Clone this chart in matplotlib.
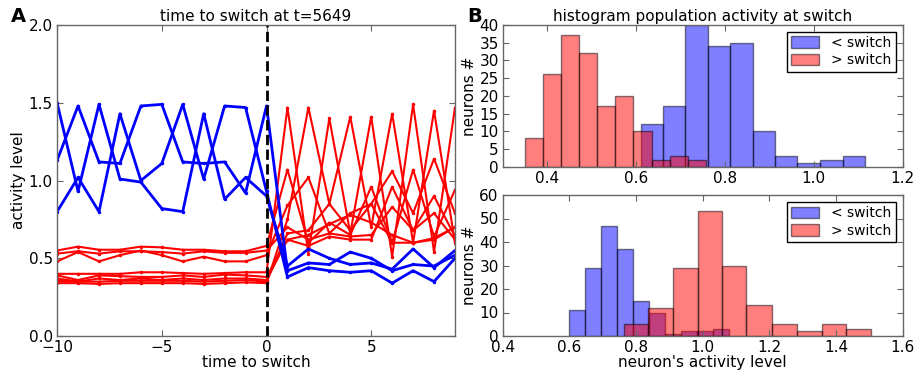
import numpy as np
import matplotlib
matplotlib.use("Agg")
import matplotlib.pyplot as plt

# ---- panel A: activity traces around the switch ----
t = np.arange(-10, 10)

blue_traces = [
    [1.50, 0.93, 1.49, 1.01, 0.99, 0.82, 0.80, 1.43, 0.88, 1.02, 0.90,
     0.45, 0.56, 0.50, 0.46, 0.47, 0.43, 0.56, 0.44, 0.55],
    [1.13, 1.48, 1.12, 1.11, 1.48, 1.49, 1.12, 1.11, 1.12, 0.92, 1.48,
     0.42, 0.47, 0.46, 0.54, 0.50, 0.42, 0.46, 0.45, 0.52],
    [0.80, 1.02, 0.80, 1.43, 1.00, 1.11, 1.49, 1.01, 1.48, 1.47, 0.93,
     0.38, 0.44, 0.42, 0.41, 0.42, 0.34, 0.42, 0.35, 0.50],
]

red_traces = [
    [0.40, 0.40, 0.40, 0.40, 0.41, 0.41, 0.405, 0.40, 0.405, 0.41, 0.41,
     1.47, 0.53, 1.40, 0.66, 1.41, 0.51, 1.49, 0.54, 1.47],
    [0.34, 0.34, 0.335, 0.34, 0.34, 0.34, 0.34, 0.335, 0.34, 0.345, 0.34,
     0.75, 1.47, 0.85, 1.41, 0.70, 1.43, 0.60, 1.45, 0.60],
    [0.55, 0.575, 0.555, 0.555, 0.575, 0.57, 0.555, 0.555, 0.545, 0.545, 0.58,
     1.07, 0.60, 0.73, 0.65, 0.96, 0.60, 1.07, 0.64, 0.94],
    [0.48, 0.54, 0.48, 0.52, 0.55, 0.52, 0.48, 0.51, 0.48, 0.48, 0.52,
     0.84, 1.02, 0.66, 0.79, 0.85, 1.06, 0.79, 1.14, 0.79],
    [0.39, 0.36, 0.39, 0.385, 0.38, 0.38, 0.39, 0.38, 0.395, 0.39, 0.38,
     0.62, 0.65, 0.72, 0.78, 0.73, 0.65, 0.60, 0.62, 0.70],
    [0.53, 0.545, 0.53, 0.545, 0.545, 0.54, 0.53, 0.545, 0.535, 0.535, 0.55,
     0.70, 0.62, 0.66, 0.64, 0.65, 0.83, 0.68, 0.90, 0.64],
    [0.37, 0.35, 0.37, 0.36, 0.37, 0.36, 0.37, 0.36, 0.37, 0.37, 0.36,
     0.62, 0.58, 0.64, 0.62, 0.62, 0.96, 0.68, 0.79, 0.62],
    [0.355, 0.35, 0.35, 0.355, 0.355, 0.355, 0.355, 0.35, 0.355, 0.36, 0.35,
     0.66, 0.68, 0.85, 0.68, 0.85, 0.60, 0.60, 0.63, 0.70],
]

# ---- panel B: histograms (bin edges + counts) ----
top_blue_edges = [0.610, 0.661, 0.711, 0.762, 0.812, 0.863, 0.913, 0.963, 1.014, 1.065, 1.115]
top_blue_counts = [12, 17, 40, 34, 35, 10, 3, 1, 2, 3]
top_red_edges = [0.349, 0.390, 0.430, 0.471, 0.512, 0.553, 0.594, 0.635, 0.676, 0.717, 0.758]
top_red_counts = [8, 26, 37, 32, 17, 20, 10, 2, 3, 2]

bot_blue_edges = [0.598, 0.646, 0.695, 0.743, 0.791, 0.839, 0.887, 0.935, 0.983, 1.031, 1.080]
bot_blue_counts = [11, 29, 47, 37, 15, 10, 1, 2, 2, 3]
bot_red_edges = [0.763, 0.837, 0.911, 0.985, 1.058, 1.131, 1.207, 1.282, 1.357, 1.430, 1.504]
bot_red_counts = [5, 12, 29, 53, 30, 13, 5, 2, 5, 3]

plt.rcParams["font.family"] = "DejaVu Sans"
plt.rcParams["font.size"] = 11

fig = plt.figure(figsize=(9.21, 3.75), dpi=100)
axA = fig.add_axes([0.062, 0.104, 0.432, 0.829])
axB1 = fig.add_axes([0.546, 0.555, 0.434, 0.379])
axB2 = fig.add_axes([0.546, 0.104, 0.434, 0.376])

frame = "#666666"


def style(ax):
    for s in ax.spines.values():
        s.set_color(frame)
        s.set_linewidth(1.0)
    ax.tick_params(direction="in", top=True, right=True, length=4,
                   color=frame, labelsize=11, pad=3)


for tr in red_traces:
    axA.plot(t, tr, "-", color="r", lw=1.5, marker=".", ms=3)
for tr in blue_traces:
    axA.plot(t, tr, "-", color="b", lw=2, marker=".", ms=3)
axA.axvline(0, color="k", ls="--", lw=2)
axA.set_xlim(-10, 9)
axA.set_ylim(0, 2)
axA.set_xticks([-10, -5, 0, 5])
axA.set_xticklabels(["\u221210", "\u22125", "0", "5"])
axA.set_yticks([0, 0.5, 1.0, 1.5, 2.0])
axA.set_title("time to switch at t=5649", fontsize=11, pad=3)
axA.set_xlabel("time to switch", labelpad=0)
axA.set_ylabel("activity level", labelpad=2)
style(axA)


def hist_pair(ax, be, bc, re_, rc):
    be = np.array(be)
    re_ = np.array(re_)
    ax.bar(be[:-1], bc, width=np.diff(be), align="edge", color="b",
           edgecolor="k", alpha=0.5, label="< switch")
    ax.bar(re_[:-1], rc, width=np.diff(re_), align="edge", color="r",
           edgecolor="k", alpha=0.5, label="> switch")
    leg = ax.legend(loc="upper right", fontsize=10, fancybox=False,
                    framealpha=1, handlelength=2.0, handleheight=0.9,
                    labelspacing=0.25, borderpad=0.3, handletextpad=0.9,
                    borderaxespad=0.5)
    leg.get_frame().set_edgecolor("k")
    style(ax)


hist_pair(axB1, top_blue_edges, top_blue_counts, top_red_edges, top_red_counts)
axB1.set_xlim(0.3, 1.2)
axB1.set_ylim(0, 40)
axB1.set_xticks([0.4, 0.6, 0.8, 1.0, 1.2])
axB1.set_yticks(range(0, 41, 5))
axB1.set_ylabel("neurons #", labelpad=2)
axB1.set_title("histogram population activity at switch", fontsize=11, pad=3)

hist_pair(axB2, bot_blue_edges, bot_blue_counts, bot_red_edges, bot_red_counts)
axB2.set_xlim(0.4, 1.6)
axB2.set_ylim(0, 60)
axB2.set_xticks([0.4, 0.6, 0.8, 1.0, 1.2, 1.4, 1.6])
axB2.set_yticks(range(0, 61, 10))
axB2.set_ylabel("neurons #", labelpad=2)
axB2.set_xlabel("neuron's activity level", labelpad=0)

fig.text(0.012, 0.955, "A", fontsize=14, fontweight="bold", va="center")
fig.text(0.507, 0.955, "B", fontsize=14, fontweight="bold", va="center")

fig.savefig("out.png", dpi=100, facecolor="white")
